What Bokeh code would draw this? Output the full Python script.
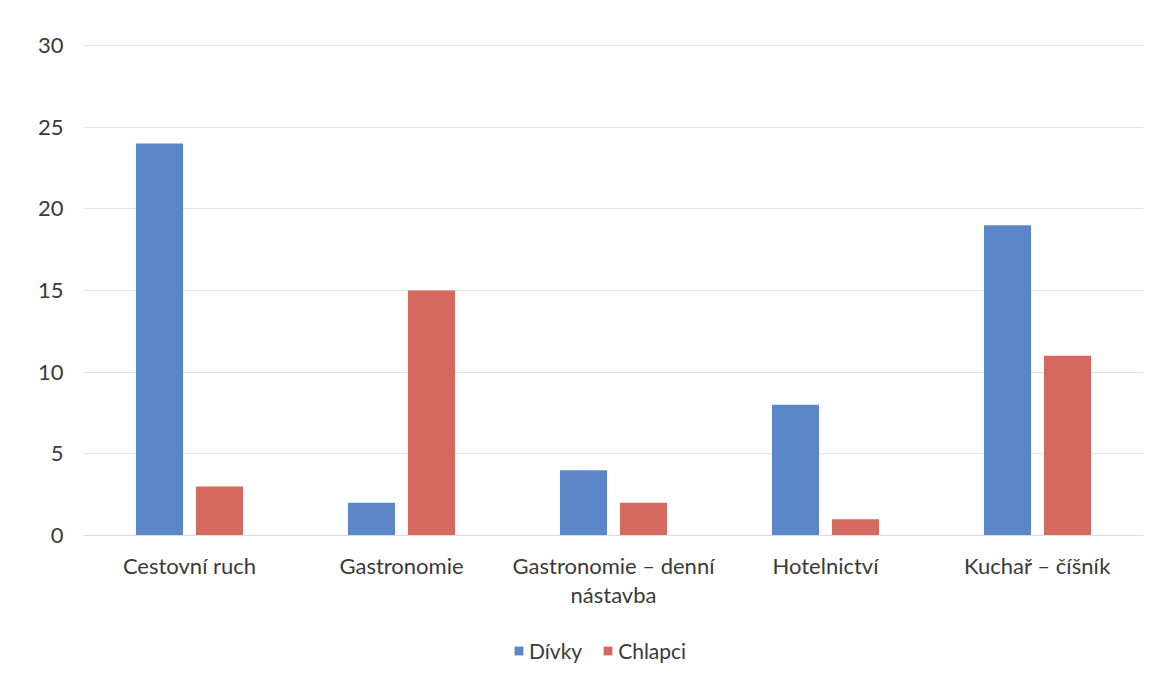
from bokeh.plotting import figure
from bokeh.models import ColumnDataSource, Legend, LegendItem, Range1d, FixedTicker
from bokeh.embed import file_html
from bokeh.resources import INLINE

categories = ["Cestovní ruch", "Gastronomie", "Gastronomie – denní\nnástavba", "Hotelnictví", "Kuchař – číšník"]
divky = [24, 2, 4, 8, 19]
chlapci = [3, 15, 2, 1, 11]
series_names = ["Dívky", "Chlapci"]
y_ticks = [0, 5, 10, 15, 20, 25, 30]

FONT = "Lato"
TXT = "#3a3a3a"
BLUE = "#5b86c7"
RED = "#d6695f"

xs = list(range(len(categories)))
off = 0.1415
bw = 0.222

src = ColumnDataSource(dict(
    xb=[x - off for x in xs], xr=[x + off for x in xs],
    divky=divky, chlapci=chlapci,
))

p = figure(width=1164, height=679, output_backend="svg", toolbar_location=None,
           x_range=Range1d(-0.5, len(categories) - 0.5), y_range=Range1d(-8.816, 30.061),
           min_border_left=83, min_border_right=21, min_border_top=44, min_border_bottom=0)
p.outline_line_color = None
p.background_fill_color = "white"
p.border_fill_color = "white"

rb = p.vbar(x="xb", top="divky", width=bw, source=src, fill_color=BLUE, line_color=None)
rr = p.vbar(x="xr", top="chlapci", width=bw, source=src, fill_color=RED, line_color=None)

p.xgrid.grid_line_color = None
p.ygrid.grid_line_color = "#e3e3e3"
p.ygrid.grid_line_width = 1

p.yaxis.ticker = FixedTicker(ticks=y_ticks)
p.yaxis.axis_line_color = None
p.yaxis.major_tick_line_color = None
p.yaxis.minor_tick_line_color = None
p.yaxis.major_label_text_font = FONT
p.yaxis.major_label_text_font_size = "22px"
p.yaxis.major_label_text_color = TXT
p.yaxis.major_label_standoff = 14

p.xaxis.fixed_location = 0
p.xaxis.ticker = FixedTicker(ticks=xs)
p.xaxis.major_label_overrides = {i: c for i, c in enumerate(categories)}
p.xaxis.axis_line_color = "#dcdcdc"
p.xaxis.major_tick_line_color = None
p.xaxis.minor_tick_line_color = None
p.xaxis.major_label_text_font = FONT
p.xaxis.major_label_text_font_size = "22px"
p.xaxis.major_label_text_color = TXT
p.xaxis.major_label_standoff = 10
p.xaxis.major_label_text_line_height = 1.1

legend = Legend(items=[LegendItem(label=series_names[0], renderers=[rb]),
                       LegendItem(label=series_names[1], renderers=[rr])],
                location=(430, 16), orientation="horizontal",
                border_line_color=None, background_fill_alpha=0,
                label_text_font=FONT, label_text_font_size="21px", label_text_color=TXT,
                glyph_width=11, glyph_height=11, label_standoff=5, spacing=20,
                padding=0, margin=0)
p.add_layout(legend)

open("out.html", "w").write(file_html(p, INLINE))
